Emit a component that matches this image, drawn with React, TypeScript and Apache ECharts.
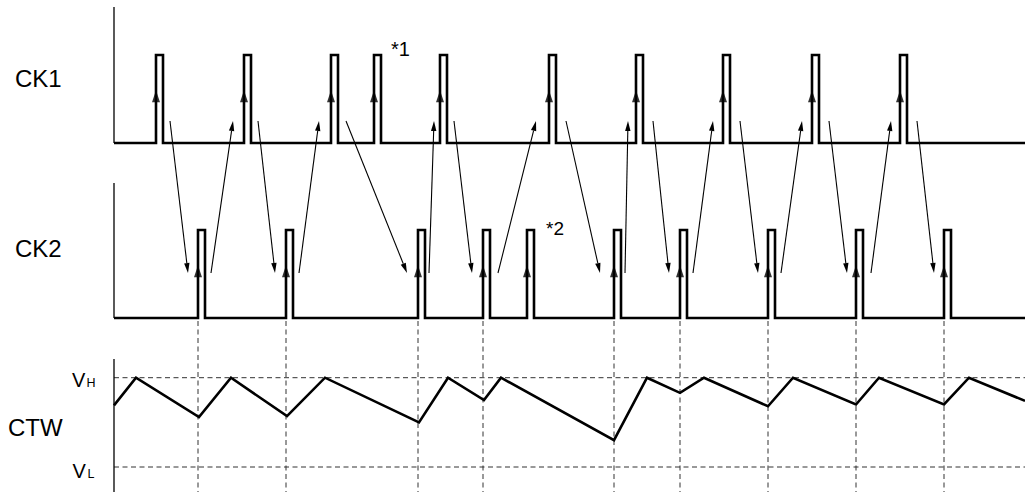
import React, { useEffect, useRef } from "react";
import * as echarts from "echarts";

// ---- data (time units along the diagram, levels as fractions) ----
const T_END = 911;
const PULSE_WIDTH = 7;
const CK1_RISE = [42, 130, 217, 260, 326, 435, 522, 609, 698, 786];
const CK2_RISE = [84, 172, 304, 369, 413, 500, 566, 654, 742, 830];
// CK2 pulses that restart the CTW timer (dashed markers); 413 (*2) is ignored
const CK2_RESET = [84, 172, 304, 369, 500, 566, 654, 742, 830];
const CTW_T = [0, 22, 85, 117, 173, 211, 305, 334, 370, 387, 500, 533, 566, 590, 654, 679, 742, 765, 830, 855, 911];
const CTW_V = [0.69, 1, 0.56, 1, 0.57, 1, 0.5, 1, 0.75, 1, 0.3, 1, 0.83, 1, 0.68, 1, 0.7, 1, 0.7, 1, 0.74];
// causal arrows: [time at CK1, time at CK2]
const ARROWS_DOWN = [[56, 74], [144, 161], [232, 293], [340, 358], [452, 486], [539, 555], [626, 644], [715, 733], [803, 820]];
// [time at CK2, time at CK1]
const ARROWS_UP = [[97, 119], [185, 205], [315, 320], [384, 422], [511, 514], [579, 599], [667, 688], [757, 777]];

// ---- layout (vertical positions of lanes) ----
const CK1 = { low: 349, high: 437, axisTop: 485 };
const CK2 = { low: 174, high: 262, axisTop: 309 };
const CTW = { vl: 25, vh: 114.3, axisTop: 133 };
const ARROW_Y_CK1 = 371;
const ARROW_Y_CK2 = 219;
const EDGE_ARROW_FRAC = 0.53;
const DASH_TOP = 171;

function pulseTrain(rises: number[], lane: { low: number; high: number }) {
  const pts: number[][] = [[0, lane.low]];
  rises.forEach((r) => {
    pts.push([r, lane.low], [r, lane.high], [r + PULSE_WIDTH, lane.high], [r + PULSE_WIDTH, lane.low]);
  });
  pts.push([T_END, lane.low]);
  return pts;
}

function segSeries(segs: number[][], style: any, z: number) {
  return {
    type: "custom",
    clip: false,
    silent: true,
    z,
    data: segs,
    renderItem: (params: any, api: any) => {
      const p1 = api.coord([api.value(0), api.value(1)]);
      const p2 = api.coord([api.value(2), api.value(3)]);
      return {
        type: "line",
        shape: { x1: p1[0], y1: p1[1], x2: p2[0], y2: p2[1] },
        style: { stroke: "#000", fill: null, ...style },
      };
    },
  };
}

function arrowSeries(segs: number[][], z: number) {
  return {
    type: "custom",
    clip: false,
    silent: true,
    z,
    data: segs,
    renderItem: (params: any, api: any) => {
      const p1 = api.coord([api.value(0), api.value(1)]);
      const p2 = api.coord([api.value(2), api.value(3)]);
      const dx = p2[0] - p1[0];
      const dy = p2[1] - p1[1];
      const len = Math.sqrt(dx * dx + dy * dy);
      const ux = dx / len;
      const uy = dy / len;
      const hl = 10;
      const hw = 2.7;
      const bx = p2[0] - ux * hl;
      const by = p2[1] - uy * hl;
      return {
        type: "group",
        children: [
          {
            type: "line",
            shape: { x1: p1[0], y1: p1[1], x2: bx, y2: by },
            style: { stroke: "#000", lineWidth: 1.1 },
          },
          {
            type: "polygon",
            shape: {
              points: [
                [p2[0], p2[1]],
                [bx - uy * hw, by + ux * hw],
                [bx + uy * hw, by - ux * hw],
              ],
            },
            style: { fill: "#000" },
          },
        ],
      };
    },
  };
}

const FONT = "'Liberation Sans', Arial, sans-serif";

export default function App() {
  const ref = useRef<HTMLDivElement>(null);
  useEffect(() => {
    if (!ref.current) return;
    const chart = echarts.init(ref.current, undefined, { renderer: "svg" });
    const ctw = CTW_T.map((t, i) => [t, CTW.vl + CTW_V[i] * (CTW.vh - CTW.vl)]);
    const edgeMarks = (rises: number[], lane: { low: number; high: number }) =>
      rises.map((r) => [r, lane.low + EDGE_ARROW_FRAC * (lane.high - lane.low)]);

    const option: any = {
      animation: false,
      backgroundColor: "#fff",
      grid: { left: 114, right: 0, top: 0, bottom: 0 },
      xAxis: { type: "value", min: 0, max: T_END, show: false },
      yAxis: { type: "value", min: 0, max: 492, show: false },
      graphic: [
        { type: "text", x: 15, y: 78.3, style: { text: "CK1", font: `24px ${FONT}`, fill: "#000", verticalAlign: "middle" } },
        { type: "text", x: 15, y: 248.3, style: { text: "CK2", font: `24px ${FONT}`, fill: "#000", verticalAlign: "middle" } },
        { type: "text", x: 8, y: 427.5, style: { text: "CTW", font: `24px ${FONT}`, fill: "#000", verticalAlign: "middle" } },
        { type: "text", x: 72, y: 379.7, style: { text: "V", font: `20px ${FONT}`, fill: "#000", verticalAlign: "middle" } },
        { type: "text", x: 86.5, y: 382.5, style: { text: "H", font: `12.5px ${FONT}`, fill: "#000", verticalAlign: "middle" } },
        { type: "text", x: 72.5, y: 470.8, style: { text: "V", font: `20px ${FONT}`, fill: "#000", verticalAlign: "middle" } },
        { type: "text", x: 87.5, y: 474, style: { text: "L", font: `12.5px ${FONT}`, fill: "#000", verticalAlign: "middle" } },
        { type: "text", x: 391, y: 49, style: { text: "*1", font: `20px ${FONT}`, fill: "#000", verticalAlign: "middle" } },
        { type: "text", x: 546, y: 228.3, style: { text: "*2", font: `19px ${FONT}`, fill: "#000", verticalAlign: "middle" } },
      ],
      series: [
        // dashed reset markers
        segSeries(
          CK2_RESET.map((t) => [t, DASH_TOP, t, 0]),
          { stroke: "#333", lineWidth: 1, lineDash: [5, 3.5] },
          1
        ),
        // VH / VL reference lines
        segSeries(
          [
            [0, CTW.vh, T_END, CTW.vh],
            [0, CTW.vl, T_END, CTW.vl],
          ],
          { stroke: "#333", lineWidth: 1, lineDash: [5, 3.5] },
          1
        ),
        // lane axes
        segSeries(
          [
            [0, CK1.axisTop, 0, CK1.low],
            [0, CK2.axisTop, 0, CK2.low],
            [0, CTW.axisTop, 0, 0],
          ],
          { stroke: "#000", lineWidth: 1.3 },
          2
        ),
        {
          type: "line",
          name: "CK1",
          data: pulseTrain(CK1_RISE, CK1),
          symbol: "none",
          clip: false,
          z: 3,
          lineStyle: { color: "#000", width: 2.6, join: "miter", cap: "butt" },
        },
        {
          type: "line",
          name: "CK2",
          data: pulseTrain(CK2_RISE, CK2),
          symbol: "none",
          clip: false,
          z: 3,
          lineStyle: { color: "#000", width: 2.6, join: "miter", cap: "butt" },
        },
        {
          type: "scatter",
          data: [...edgeMarks(CK1_RISE, CK1), ...edgeMarks(CK2_RISE, CK2)],
          symbol: "triangle",
          symbolSize: [8, 12],
          itemStyle: { color: "#000" },
          z: 4,
          silent: true,
        },
        {
          type: "line",
          name: "CTW",
          data: ctw,
          symbol: "none",
          clip: false,
          z: 5,
          lineStyle: { color: "#000", width: 2.6, join: "miter" },
        },
        arrowSeries(
          ARROWS_DOWN.map(([a, b]) => [a, ARROW_Y_CK1, b, ARROW_Y_CK2]),
          4
        ),
        arrowSeries(
          ARROWS_UP.map(([a, b]) => [a, ARROW_Y_CK2, b, ARROW_Y_CK1]),
          4
        ),
      ],
    };
    chart.setOption(option);
    return () => chart.dispose();
  }, []);
  return (
    <div
      ref={ref}
      style={{ position: "absolute", left: 0, top: 0, width: 1025, height: 492, background: "#fff" }}
    />
  );
}
